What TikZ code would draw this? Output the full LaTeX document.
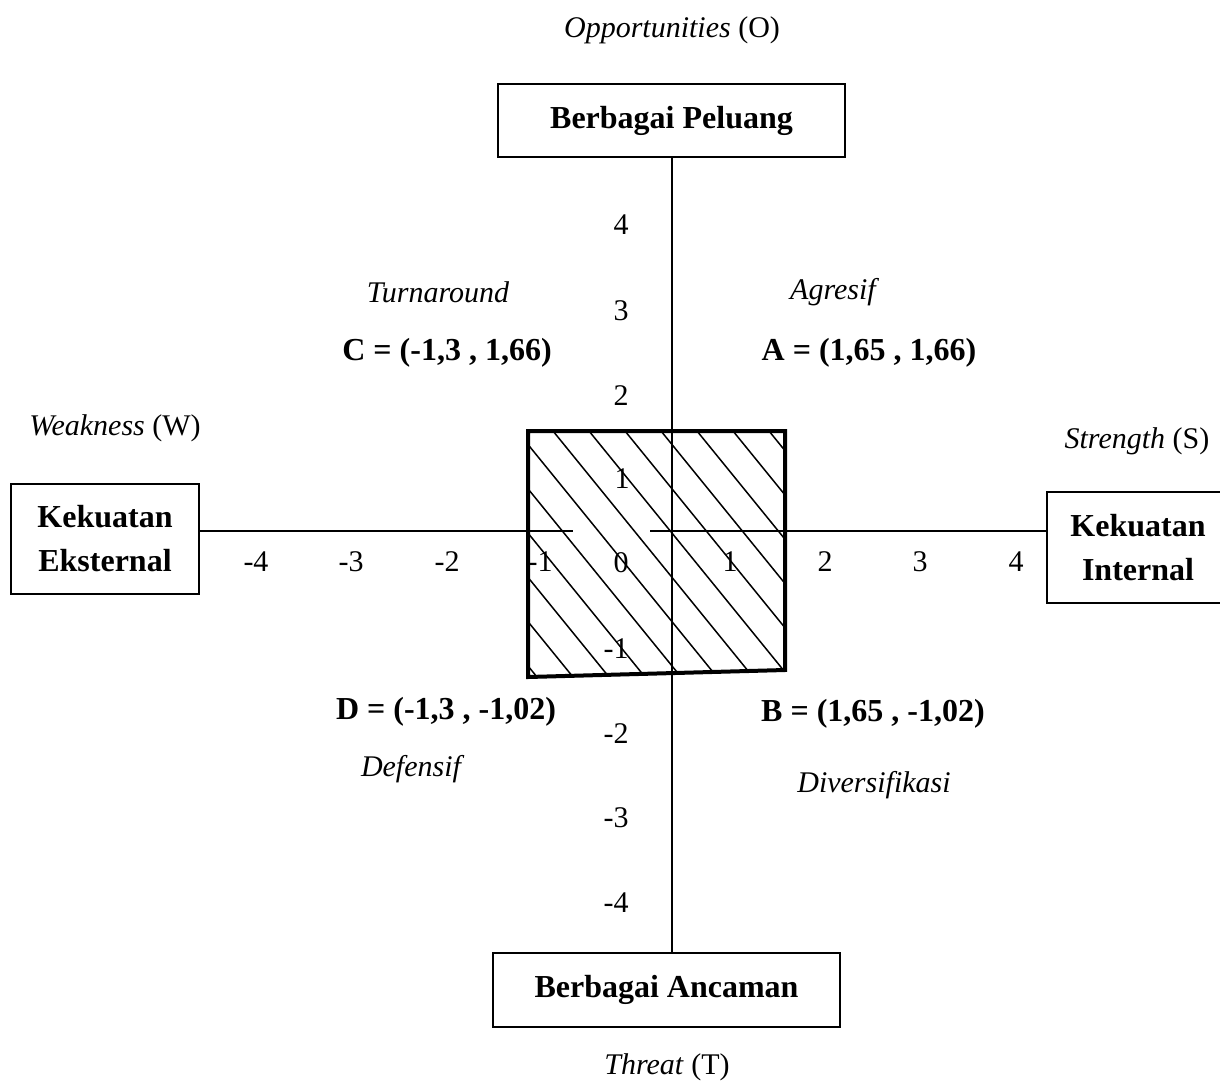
\documentclass[tikz,border=0pt]{standalone}
\usepackage{fontspec}
\setmainfont{Liberation Serif}
\begin{document}
\begin{tikzpicture}[x=1pt,y=-1pt,
  every node/.style={font=\fontsize{30}{34}\selectfont, inner sep=0pt},
  box/.style={draw, line width=1.5pt, align=center, font=\fontsize{32}{44}\selectfont\bfseries},
  axis/.style={line width=1.5pt},
  lbl/.style={font=\fontsize{30}{34}\selectfont\itshape},
  pt/.style={font=\fontsize{32}{36}\selectfont\bfseries},
  num/.style={font=\fontsize{30}{34}\selectfont},
  hatch/.style={line width=1.5pt},
  frame/.style={line width=4pt, line join=miter}
]
\useasboundingbox (0,0) rectangle (1220,1082);
\coordinate (o) at (672,531);
% boxes
\node[box, minimum width=347pt, minimum height=73pt] (top) at (671.5,120.5) {Berbagai Peluang};
\node[box, minimum width=347pt, minimum height=74pt] (bot) at (666.5,990) {Berbagai Ancaman};
\node[box, minimum width=188pt, minimum height=110pt] (left) at (105,539) {Kekuatan\\Eksternal};
\node[box, minimum width=182pt, minimum height=111pt, text width=150pt] (right) at (1138,547.5) {Kekuatan\\Internal};
% axes
\coordinate (gl) at (573,531);
\coordinate (gr) at (650,531);
\draw[axis] (top.south -| o) -- (bot.north -| o);
\draw[axis] (left.east |- o) -- (gl);
\draw[axis] (gr) -- (right.west |- o);
% hatched square
\coordinate (s1) at (528,431);
\coordinate (s2) at (785,431);
\coordinate (s3) at (785,670);
\coordinate (s4) at (528,677);
\begin{scope}
\clip (s1) -- (s2) -- (s3) -- (s4) -- cycle;
\foreach \k in {-9,...,7} {
  \draw[hatch] (553+\k*36-300,431-369) -- (553+\k*36+300,431+369);
}
\end{scope}
\draw[frame] (s1) -- (s2) -- (s3) -- (s4) -- cycle;
% axis numbers
\node[num] (y4) at (621,225) {4};
\node[num] (y3) at (621,311) {3};
\node[num] (y2) at (621,396) {2};
\node[num] (y1) at (622,479) {1};
\node[num] (ym1) at (616,649) {-1};
\node[num] (ym2) at (616,734) {-2};
\node[num] (ym3) at (616,818) {-3};
\node[num] (ym4) at (616,903) {-4};
\node[num] (xm4) at (256,562) {-4};
\node[num] (xm3) at (351,562) {-3};
\node[num] (xm2) at (447,562) {-2};
\node[num] (xm1) at (540,562) {-1};
\node[num] (x0) at (621,563) {0};
\node[num] (x1) at (730,562) {1};
\node[num] (x2) at (825,562) {2};
\node[num] (x3) at (920,562) {3};
\node[num] (x4) at (1016,562) {4};
% labels
\node (opp) at (672,30) {\textit{Opportunities} (O)};
\node (thr) at (667,1067) {\textit{Threat} (T)};
\node (weak) at (115,428) {\textit{Weakness} (W)};
\node (str) at (1137,441) {\textit{Strength} (S)};
\node[lbl] (turn) at (438,292) {Turnaround};
\node[lbl] (agr) at (833,292) {Agresif};
\node[lbl] (def) at (411,769) {Defensif};
\node[lbl] (div) at (874,785) {Diversifikasi};
\node[pt] (C) at (447,353) {C = (-1,3 , 1,66)};
\node[pt] (A) at (869,353) {A = (1,65 , 1,66)};
\node[pt] (D) at (446,712) {D = (-1,3 , -1,02)};
\node[pt] (B) at (873,714) {B = (1,65 , -1,02)};
\end{tikzpicture}
\end{document}
